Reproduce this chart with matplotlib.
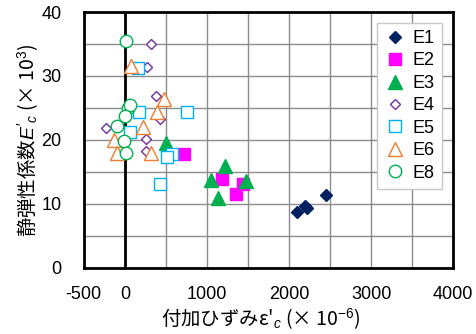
import matplotlib
matplotlib.use("Agg")
import matplotlib.pyplot as plt
from matplotlib.ticker import MultipleLocator

plt.rcParams["font.family"] = ["Liberation Sans", "Noto Sans CJK JP", "DejaVu Sans"]
plt.rcParams["mathtext.fontset"] = "custom"
plt.rcParams["mathtext.rm"] = "Liberation Sans"
plt.rcParams["mathtext.it"] = "Liberation Sans:italic"

# data (strain x10^-6, modulus x10^3)
e1_x = [2100, 2190, 2220, 2450]
e1_y = [8.8, 9.7, 9.3, 11.4]
e2_x = [720, 1180, 1440, 1360]
e2_y = [17.8, 13.9, 13.1, 11.6]
e3_x = [500, 1220, 1045, 1476, 1130]
e3_y = [19.6, 16.0, 13.75, 13.6, 11.0]
e4_x = [317, 276, 374, 427, -232, 252, 256]
e4_y = [35.0, 31.4, 26.9, 23.2, 21.8, 20.1, 18.3]
e5_x = [155, 171, 752, 61, 569, 508, 427]
e5_y = [31.2, 24.3, 24.3, 21.2, 17.8, 17.4, 13.1]
e6_x = [70, 476, 398, 220, -130, -101, 317]
e6_y = [31.6, 26.4, 24.3, 22.0, 20.0, 18.0, 17.9]
e8_x = [20, 40, 60, 8, -101, -8, 20]
e8_y = [35.4, 25.0, 25.4, 23.75, 22.2, 19.9, 17.9]

series = [
    ("E1", e1_x, e1_y, "D", 6.5, "#002060", True),
    ("E2", e2_x, e2_y, "s", 8.5, "#FF00FF", True),
    ("E3", e3_x, e3_y, "^", 9.5, "#00B050", True),
    ("E4", e4_x, e4_y, "D", 5.5, "#7030A0", False),
    ("E5", e5_x, e5_y, "s", 8, "#00B0F0", False),
    ("E6", e6_x, e6_y, "^", 9.5, "#ED7D31", False),
    ("E8", e8_x, e8_y, "o", 9, "#00B050", False),
]

fig = plt.figure(figsize=(4.76, 3.34), dpi=100)
ax = fig.add_axes([0.176, 0.198, 0.776, 0.766])

for name, xs, ys, mk, ms, col, filled in series:
    ax.plot(xs, ys, linestyle="none", marker=mk, markersize=ms,
            markerfacecolor=col if filled else "white",
            markeredgecolor=col, markeredgewidth=1.0, label=name, zorder=3)

ax.axvline(0, color="black", linewidth=2, zorder=2)

ax.set_xlim(-500, 4000)
ax.set_ylim(0, 40)
ax.xaxis.set_major_locator(MultipleLocator(500))
ax.yaxis.set_major_locator(MultipleLocator(5))
ax.set_xticklabels([("%d" % v if v % 1000 == 0 or v == -500 else "")
                    for v in ax.get_xticks()])
ax.set_yticklabels([("%d" % v if v % 10 == 0 else "") for v in ax.get_yticks()])
ax.grid(True, color="#8c8c8c", linewidth=1, zorder=0)
ax.set_axisbelow(True)
ax.tick_params(length=0, labelsize=13)
ax.tick_params(axis="x", pad=13)
ax.tick_params(axis="y", pad=16)
for s in ax.spines.values():
    s.set_linewidth(2)
    s.set_color("black")

# CJK font as the base so the plain part of the mathtext string has glyphs
ax.set_ylabel("静弾性係数$E'_c$ (× 10$^3$)", fontsize=14,
              family="Noto Sans CJK JP", va="center")
ax.set_xlabel("付加ひずみε'$_c$ (× 10$^{-6}$)", fontsize=14,
              family="Noto Sans CJK JP", va="center")
ax.yaxis.set_label_coords(-0.152, 0.5)
ax.xaxis.set_label_coords(0.48, -0.2)

leg = ax.legend(loc="upper right", fontsize=13, handlelength=1.2,
                handletextpad=0.4, labelspacing=0.3, borderpad=0.4,
                borderaxespad=0.6, fancybox=False, framealpha=1)
leg.get_frame().set_edgecolor("#c8c8c8")
leg.get_frame().set_linewidth(1)

fig.savefig("out.png", dpi=100)
